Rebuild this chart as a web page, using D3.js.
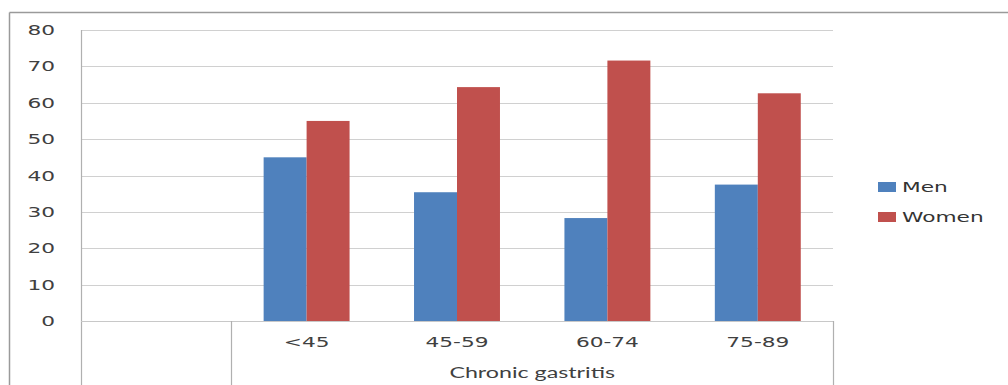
<!DOCTYPE html>
<html>
<head>
<meta charset="utf-8">
<script src="https://cdn.jsdelivr.net/npm/d3@7"></script>
<style>
  html, body { margin: 0; padding: 0; background: #fff; }
  svg { display: block; }
</style>
</head>
<body>
<svg id="chart" width="1008" height="385"></svg>
<script>
const categories = ["", "<45", "45-59", "60-74", "75-89"];
const groupLabel = "Chronic gastritis";
const seriesNames = ["Men", "Women"];
const menValues = [null, 45.0, 35.4, 28.3, 37.5];
const womenValues = [null, 55.0, 64.3, 71.6, 62.6];
const yTicks = [0, 10, 20, 30, 40, 50, 60, 70, 80];
const colors = ["#4F81BD", "#C0504D"];

(function () {
const svg = d3.select("#chart");
const SX = 1.55;
const pLeft = 81, pRight = 833, pTop = 30, pBottom = 321;

const x = d3.scaleBand().domain(categories).range([pLeft, pRight]).paddingInner(0).paddingOuter(0);
const x1 = d3.scaleBand().domain(seriesNames).range([0, x.bandwidth()]).paddingInner(0).paddingOuter(0.75);
const y = d3.scaleLinear().domain([0, 80]).range([pBottom, pTop]);

function stretchedText(g, tx, ty, str, opts) {
  return g.append("g").attr("transform", `translate(${tx},${ty}) scale(${SX},1)`)
    .append("text")
    .attr("x", 0).attr("y", 0)
    .attr("text-anchor", opts.anchor || "middle")
    .attr("font-family", opts.family || "DejaVu Sans, Verdana, sans-serif")
    .attr("font-size", opts.size || 14)
    .attr("fill", opts.fill || "#404040")
    .text(str);
}

// outer frame
svg.append("line").attr("x1", 9.5).attr("x2", 1008).attr("y1", 12.5).attr("y2", 12.5)
  .attr("stroke", "#9a9a9a").attr("stroke-width", 1.5);
svg.append("line").attr("x1", 9.5).attr("x2", 9.5).attr("y1", 12.5).attr("y2", 385)
  .attr("stroke", "#9a9a9a").attr("stroke-width", 1.5);

// gridlines
svg.append("g").selectAll("line").data(yTicks).join("line")
  .attr("x1", pLeft).attr("x2", pRight)
  .attr("y1", d => Math.round(y(d)) + 0.5).attr("y2", d => Math.round(y(d)) + 0.5)
  .attr("stroke", "#d0d0d0").attr("stroke-width", 1.2);

// y axis line
svg.append("line").attr("x1", pLeft + 0.5).attr("x2", pLeft + 0.5).attr("y1", pTop).attr("y2", 385)
  .attr("stroke", "#b0b0b0").attr("stroke-width", 1.2);

// y tick labels
const yl = svg.append("g");
yTicks.forEach(v => {
  stretchedText(yl, 55, y(v) + 5, String(v), { anchor: "end", size: 14, fill: "#404040" });
});

// bars
const seriesData = [menValues, womenValues];
const bars = svg.append("g");
seriesData.forEach((vals, si) => {
  bars.append("g").selectAll("rect")
    .data(categories.map((c, i) => ({ c, v: vals[i] })).filter(d => d.v != null))
    .join("rect")
    .attr("x", d => x(d.c) + x1(seriesNames[si]))
    .attr("width", x1.bandwidth())
    .attr("y", d => y(d.v))
    .attr("height", d => y(0) - y(d.v))
    .attr("fill", colors[si]);
});

// zero line on top
svg.append("line").attr("x1", pLeft).attr("x2", pRight).attr("y1", pBottom + 0.5).attr("y2", pBottom + 0.5)
  .attr("stroke", "#c8c8c8").attr("stroke-width", 1.2);

// category group dividers (multi-level axis)
const groupEdges = [x(categories[1]), pRight];
svg.append("g").selectAll("line").data(groupEdges).join("line")
  .attr("x1", d => Math.round(d) + 0.5).attr("x2", d => Math.round(d) + 0.5)
  .attr("y1", pBottom).attr("y2", 385)
  .attr("stroke", "#b0b0b0").attr("stroke-width", 1.2);

// category labels
const cl = svg.append("g");
categories.forEach(c => {
  if (c) stretchedText(cl, x(c) + x.bandwidth() / 2, 347, c, { size: 14, fill: "#404040" });
});

// group label
stretchedText(cl, (x(categories[1]) + pRight) / 2, 378, groupLabel,
  { size: 15, family: "Lato, Open Sans, sans-serif", fill: "#404040" });

// legend
const lg = svg.append("g");
seriesNames.forEach((s, i) => {
  const ly = 182 + i * 30;
  lg.append("rect").attr("x", 878).attr("y", ly).attr("width", 18).attr("height", 10).attr("fill", colors[i]);
  stretchedText(lg, 902, ly + 10, s, { anchor: "start", size: 14, fill: "#333" });
});
})();
</script>
</body>
</html>
